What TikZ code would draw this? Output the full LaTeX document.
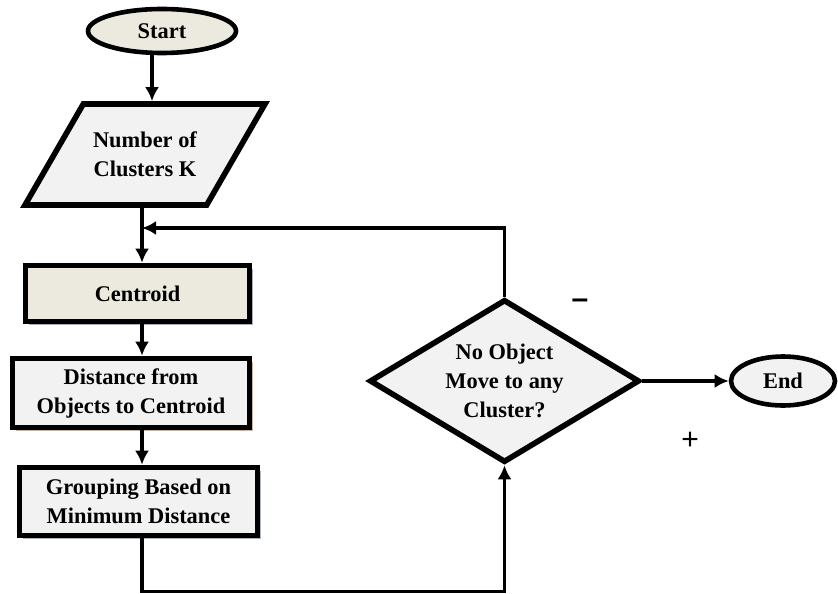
\documentclass[tikz,border=0pt]{standalone}
\usepackage{fontspec}
\setmainfont{Liberation Serif}
\newfontfamily\signfont{Liberation Sans}
\usepackage{xcolor}
\usepackage{tikz}
\usetikzlibrary{positioning, arrows.meta, calc, shapes.geometric, shadows}

\definecolor{beige}{HTML}{ECE9DF}
\definecolor{pale}{HTML}{F2F2F2}
\definecolor{lavender}{HTML}{B3A9C6}
\definecolor{tan}{HTML}{D9AE8A}
\definecolor{steel}{HTML}{A6B6CB}

\tikzset{
    flow/.style={line width=1.8pt, -{Latex[length=7pt, width=7pt]}},
    terminal/.style={ellipse, draw, line width=2.3pt, inner sep=0pt},
    stepbox/.style={rectangle, draw, line width=2.8pt, inner sep=0pt, align=center},
    shade/.style={drop shadow={shadow xshift=1.5pt, shadow yshift=-1.5pt, fill=#1, opacity=1}}
}

\begin{document}
\begin{tikzpicture}[x=0.5pt, y=-0.5pt, font=\bfseries\fontsize{11.2}{14.5}\selectfont]
    \useasboundingbox (0,0) rectangle (838,593);
    \coordinate(spine) at (142,0);
    \coordinate(join) at (142,228);
    \coordinate(low) at (142,591.5);
    \node[terminal, fill=beige, minimum width=74pt, minimum height=22pt](start) at (162,31) {Start};
    \node[trapezium, trapezium left angle=60, trapezium right angle=120, trapezium stretches body=true,
          draw, line width=2.8pt, fill=pale, align=center, inner xsep=0pt, inner ysep=14pt,
          minimum width=120pt](data) at (145,154.5) {Number of\\Clusters K};
    \node[stepbox, fill=beige, shade=lavender, minimum width=112pt, minimum height=28pt](centroid) at (137.5,293.5) {Centroid};
    \node[stepbox, fill=pale, shade=tan, minimum width=118.5pt, minimum height=34.5pt](distance) at (131,393) {Distance from\\Objects to Centroid};
    \node[stepbox, fill=pale, shade=steel, minimum width=119pt, minimum height=34pt](group) at (138.5,501.5) {Grouping Based on\\Minimum Distance};
    \node[diamond, aspect=1.65, draw, line width=2.8pt, fill=pale, align=center, inner sep=0pt,
          minimum width=135pt, minimum height=81.5pt](decide) at (504.5,381) {No Object\\Move to any\\Cluster?};
    \node[terminal, fill=pale, minimum width=52pt, minimum height=24.5pt](stop) at (783,381) {End};
    \node(minus) at (580,304) {\signfont\fontsize{15}{15}\selectfont –};
    \node(plus) at (690,441) {\signfont\mdseries\fontsize{15}{15}\selectfont +};
    \draw[flow] ([xshift=-5pt]start.south) -- ([xshift=-5pt]start.south |- data.north);
    \draw[flow] (data.south -| spine) -- (centroid.north -| spine);
    \draw[flow] (decide.north) |- (join);
    \draw[flow] (centroid.south -| spine) -- (distance.north -| spine);
    \draw[flow] (distance.south -| spine) -- (group.north -| spine);
    \draw[flow] (group.south -| spine) -- (low) -| (decide.south);
    \draw[flow] (decide.east) -- (stop.west);
\end{tikzpicture}
\end{document}
